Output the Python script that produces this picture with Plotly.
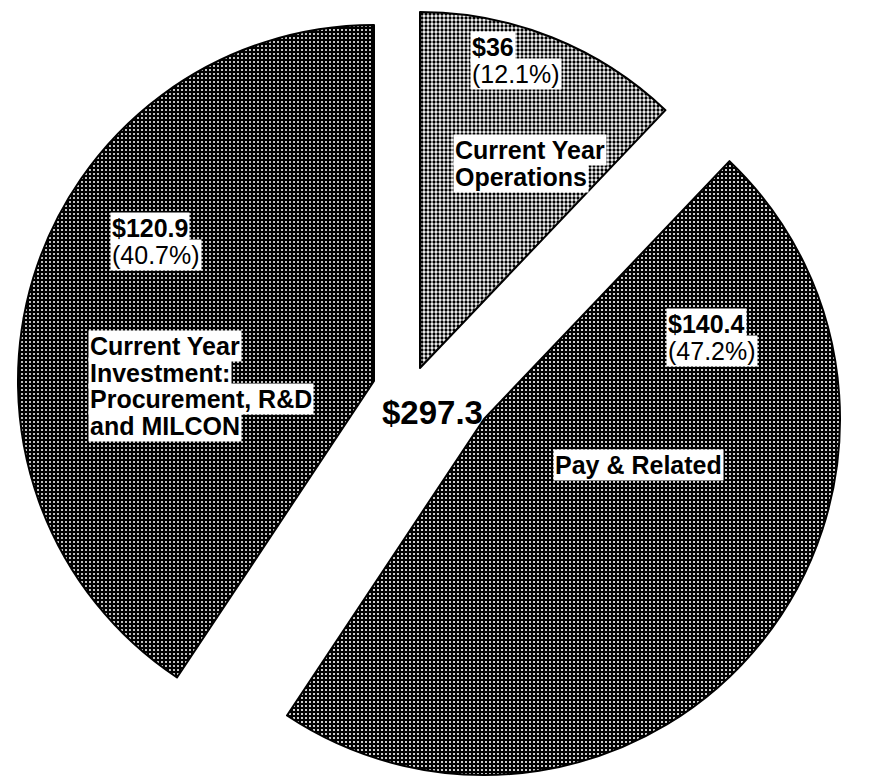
import plotly.graph_objects as go

# Budget split (billions of dollars)
categories = ["Current Year Operations", "Pay & Related",
              "Current Year Investment: Procurement, R&D and MILCON"]
amounts = [36.0, 140.4, 120.9]
total_amount = 297.3

# Category caption lines, in the same order as the categories
caption_lines = [
    ["Current Year", "Operations"],
    ["Pay & Related"],
    ["Current Year", "Investment:", "Procurement, R&D", "and MILCON"],
]

W, H = 884, 777
FONT = "Liberation Sans, Arial, Helvetica, sans-serif"
R = 356                     # pie radius in px
BASE = (420, 368)           # pie centre in px
# exploded offset of each wedge (px, screen coords)
offsets = [(0, 0), (64, 51), (-46, 13)]

# halftone look for each wedge
fills = [
    dict(bg="white", fg="black", solidity=0.52),
    dict(bg="black", fg="white", solidity=0.22),
    dict(bg="black", fg="white", solidity=0.19),
]

fig = go.Figure()
n = len(amounts)
for i in range(n):
    cx = BASE[0] + offsets[i][0]
    cy = BASE[1] + offsets[i][1]
    show = [k == i for k in range(n)]
    fig.add_trace(go.Pie(
        labels=categories,
        values=amounts,
        sort=False,
        direction="clockwise",
        rotation=0,
        textinfo="none",
        hoverinfo=["label+value+percent" if s else "none" for s in show],
        domain=dict(x=[(cx - R) / W, (cx + R) / W],
                    y=[max(0, 1 - (cy + R) / H), 1 - (cy - R) / H]),
        marker=dict(
            colors=["#777777" if s else "rgba(0,0,0,0)" for s in show],
            line=dict(color=["black" if s else "rgba(0,0,0,0)" for s in show],
                      width=[2 if s else 0 for s in show]),
            pattern=dict(
                shape=["." if s else "" for s in show],
                fillmode="replace",
                bgcolor=[fills[i]["bg"] if s else "rgba(0,0,0,0)" for s in show],
                fgcolor=[fills[i]["fg"] if s else "rgba(0,0,0,0)" for s in show],
                size=4,
                solidity=fills[i]["solidity"],
            ),
        ),
        showlegend=False,
    ))


def px(x, y):
    return x / W, 1 - y / H


annotations = []


def add_line(text, x, y, size=25, bold=True, anchor="left"):
    ax, ay = px(x, y)
    annotations.append(dict(
        x=ax, y=ay, xref="paper", yref="paper",
        xanchor=anchor, yanchor="middle",
        text=f"<b>{text}</b>" if bold else text,
        showarrow=False, bgcolor="white", borderpad=1,
        font=dict(family=FONT, size=size, color="black"),
    ))


def money(v):
    return f"${v:g}"


def share(v):
    return f"({v / sum(amounts) * 100:.1f}%)"


# value / share boxes (left x, first-line centre y)
value_pos = [(470, 47), (666, 324), (110, 228)]
# caption boxes (left x, first-line centre y)
caption_pos = [(453, 150), (553, 465), (88, 346)]
LINE = 26.5

for i, v in enumerate(amounts):
    x, y = value_pos[i]
    add_line(money(v), x, y, bold=True)
    add_line(share(v), x, y + LINE, bold=False)
    cx, cy = caption_pos[i]
    for k, ln in enumerate(caption_lines[i]):
        add_line(ln, cx, cy + k * LINE, bold=True)

# grand total in the middle
tx, ty = px(432, 412)
annotations.append(dict(
    x=tx, y=ty, xref="paper", yref="paper", xanchor="center", yanchor="middle",
    text=f"<b>{money(total_amount)}</b>", showarrow=False,
    font=dict(family=FONT, size=33, color="black"),
))

fig.update_layout(
    width=W, height=H,
    margin=dict(l=0, r=0, t=0, b=0),
    paper_bgcolor="white", plot_bgcolor="white",
    showlegend=False,
    annotations=annotations,
)

fig.write_html("out.html")
